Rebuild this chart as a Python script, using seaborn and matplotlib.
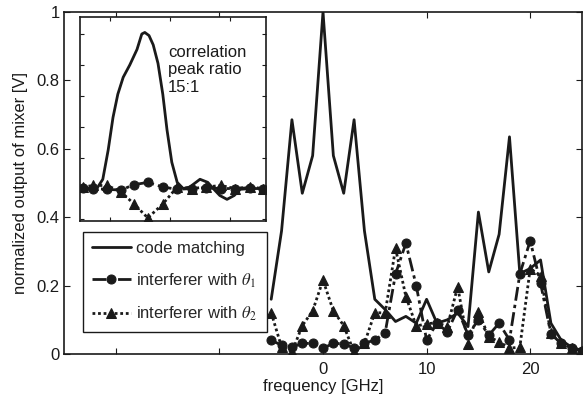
import matplotlib
matplotlib.use("Agg")
import matplotlib.pyplot as plt
import seaborn as sns

# ---------------------------------------------------------------
# data
# ---------------------------------------------------------------
freq = list(range(-5, 26))  # GHz

code_matching = [0.16, 0.36, 0.685, 0.47, 0.58, 1.0, 0.58, 0.47, 0.685, 0.36,
                 0.16, 0.13, 0.095, 0.11, 0.09, 0.16, 0.09, 0.10, 0.12, 0.08,
                 0.415, 0.24, 0.35, 0.635, 0.235, 0.25, 0.275, 0.09, 0.04, 0.02,
                 0.01]
theta1 = [0.04, 0.026, 0.02, 0.031, 0.031, 0.017, 0.031, 0.03, 0.017, 0.031,
          0.041, 0.062, 0.234, 0.324, 0.2, 0.041, 0.09, 0.065, 0.13, 0.056,
          0.1, 0.055, 0.09, 0.041, 0.234, 0.331, 0.207, 0.058, 0.031, 0.017,
          0.01]
theta2 = [0.121, 0.02, 0.005, 0.083, 0.126, 0.216, 0.126, 0.083, 0.005, 0.031,
          0.121, 0.12, 0.309, 0.168, 0.082, 0.088, 0.092, 0.08, 0.197, 0.03,
          0.124, 0.05, 0.036, 0.017, 0.02, 0.25, 0.229, 0.06, 0.031, 0.018,
          0.01]

# inset: correlation output vs time (arbitrary units)
inset_t = [0.0, 0.28, 0.38, 0.47, 0.55, 0.63, 0.72, 0.83, 0.95, 1.03, 1.08,
           1.15, 1.22, 1.30, 1.38, 1.45, 1.53, 1.62, 1.72, 1.83, 2.0, 2.13,
           2.22, 2.33, 2.45, 2.57, 2.67, 2.83, 3.1]
inset_code = [0.0, 0.0, 0.06, 0.25, 0.46, 0.61, 0.72, 0.80, 0.90, 1.0, 1.01,
              0.99, 0.93, 0.81, 0.61, 0.38, 0.17, 0.04, 0.0, 0.01, 0.06, 0.04,
              0.0, -0.045, -0.07, -0.045, -0.005, 0.0, 0.0]
inset_mt = [0.05, 0.22, 0.45, 0.68, 0.9, 1.13, 1.38, 1.62, 1.87, 2.1, 2.35,
            2.58, 2.83, 3.05]
inset_th1 = [0.005, 0.0, -0.005, -0.01, 0.025, 0.04, 0.01, -0.005, 0.0, 0.005,
             0.0, 0.0, 0.005, 0.0]
inset_th2 = [0.01, 0.02, 0.02, -0.02, -0.10, -0.19, -0.10, 0.01, 0.0, 0.01,
             0.02, 0.0, 0.01, 0.0]

labels = ["code matching", r"interferer with $\theta_1$",
          r"interferer with $\theta_2$"]

# ---------------------------------------------------------------
# style
# ---------------------------------------------------------------
sns.set_style("ticks")
plt.rcParams["font.family"] = ["Liberation Sans", "DejaVu Sans"]
plt.rcParams["mathtext.fontset"] = "stix"
plt.rcParams["font.size"] = 12

ink = "#1a1a1a"
dashdot = (0, (5, 1.5, 1.2, 1.5))
dotted = (0, (1, 1))

fig = plt.figure(figsize=(5.83, 3.99), dpi=100)
ax = fig.add_axes([64 / 583, 45 / 399, 518 / 583, 342 / 399])

sns.lineplot(x=freq, y=code_matching, ax=ax, color=ink, lw=2,
             linestyle="-", label=labels[0])
sns.lineplot(x=freq, y=theta1, ax=ax, color=ink, lw=2,
             linestyle=dashdot, marker="o", markersize=6.5,
             markeredgecolor=ink, label=labels[1])
sns.lineplot(x=freq, y=theta2, ax=ax, color=ink, lw=2,
             linestyle=dotted, marker="^", markersize=7,
             markeredgecolor=ink, label=labels[2])

ax.set_xlim(-25, 25)
ax.set_ylim(0, 1)
ax.set_xticks([-20, -10, 0, 10, 20])
ax.set_xticklabels(["", "", "0", "10", "20"])
ax.set_yticks([0, 0.2, 0.4, 0.6, 0.8, 1])
ax.set_yticklabels(["0", "0.2", "0.4", "0.6", "0.8", "1"])
ax.tick_params(direction="in", length=4, width=0.8, top=True, right=True,
               labelsize=12, color=ink, labelcolor=ink)
ax.tick_params(axis="x", pad=6)
ax.tick_params(axis="y", pad=3)
for s in ax.spines.values():
    s.set_linewidth(1.2)
    s.set_color(ink)
ax.set_xlabel("frequency [GHz]", fontsize=12, labelpad=1, color=ink)
ax.set_ylabel("normalized output of mixer [V]", fontsize=12, labelpad=6,
              color=ink)

leg = ax.legend(loc="upper left",
                bbox_to_anchor=(19 / 518, 122 / 342, 184 / 518, 0.0),
                mode="expand", borderaxespad=0, fontsize=12, frameon=True,
                fancybox=False, framealpha=1, edgecolor=ink,
                handlelength=2.3, handletextpad=0.3, labelspacing=0.9,
                borderpad=0.55)
leg.get_frame().set_linewidth(1.0)

# ---------------------------------------------------------------
# inset
# ---------------------------------------------------------------
axi = fig.add_axes([80 / 583, 178 / 399, 186 / 583, 204 / 399])
sns.lineplot(x=inset_t, y=inset_code, ax=axi, color=ink, lw=2, linestyle="-")
sns.lineplot(x=inset_mt, y=inset_th1, ax=axi, color=ink, lw=2,
             linestyle=dashdot, marker="o", markersize=6.5,
             markeredgecolor=ink)
sns.lineplot(x=inset_mt, y=inset_th2, ax=axi, color=ink, lw=2,
             linestyle=dotted, marker="^", markersize=7,
             markeredgecolor=ink)
axi.set_xlim(0, 3.1)
axi.set_ylim(-0.21, 1.11)
axi.set_xticks([0.5, 1.5, 2.5])
axi.set_yticks([-0.2, 0, 0.2, 0.4, 0.6, 0.8, 1.0])
axi.set_xticklabels([])
axi.set_yticklabels([])
axi.tick_params(direction="in", length=3, width=0.8, top=True, right=True,
                color=ink)
for s in axi.spines.values():
    s.set_linewidth(1.2)
    s.set_color(ink)
axi.text(1.47, 0.93, "correlation\npeak ratio\n15:1", fontsize=12,
         va="top", ha="left", color=ink, linespacing=1.2)

fig.savefig("out.png", dpi=100)
